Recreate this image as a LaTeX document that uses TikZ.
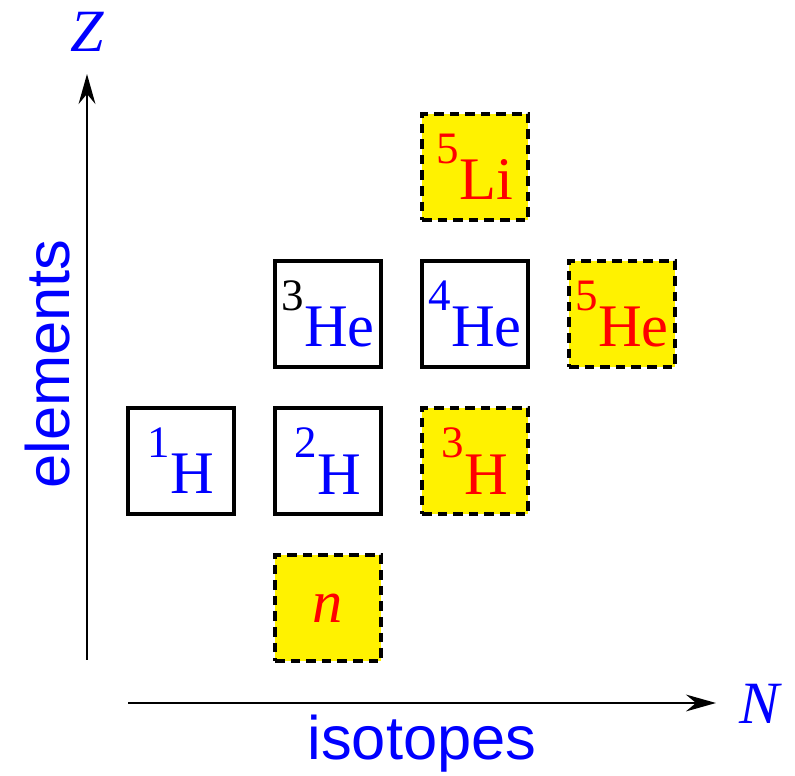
\documentclass[tikz,border=0pt]{standalone}
\usepackage{fontspec}
\setmainfont{Liberation Serif}
\setsansfont{Liberation Sans}
\usetikzlibrary{arrows.meta}
\newcommand{\nuc}[2]{\raisebox{0.6em}{\fontsize{32}{32}\selectfont #1}#2}
\tikzset{
  stable/.style={draw,line width=2.5pt,minimum size=2.65cm,inner sep=0pt,
    text=blue,font=\fontsize{43}{48}\selectfont},
  unstable/.style={stable,fill=yellow,text=red,dash pattern=on 0.24cm off 0.15cm},
  axis/.style={line width=2pt,-{Stealth[length=0.75cm,width=0.42cm,inset=0.25cm]}},
  axlabel/.style={blue,font=\fontsize{43.7}{48}\selectfont\sffamily}
}
\begin{document}
\begin{tikzpicture}
  \useasboundingbox (0,0) rectangle (19.875,19.4);
  % 坐标轴
  \coordinate (z0) at (2.175,2.9);
  \coordinate (z1) at (2.175,17.55);
  \coordinate (n0) at (3.2,1.825);
  \coordinate (n1) at (17.9,1.825);
  \draw[axis] (z0) -- (z1);
  \draw[axis] (n0) -- (n1);
  \node[blue,font=\fontsize{42.7}{48}\selectfont\itshape] (zlab) at (2.175,18.6) {Z};
  \node[blue,font=\fontsize{42.7}{48}\selectfont\itshape] (nlab) at (19.0,1.8) {N};
  \node[axlabel] (iso) at (10.55,0.8) {isotopes};
  \node[axlabel,rotate=90] (elem) at (1.2,10.3) {elements};
  % 稳定核
  \node[stable] (h1) at (4.525,7.875) {\nuc{1}{H}};
  \node[stable] (h2) at (8.2,7.875) {\nuc{2}{H}};
  \node[stable] (he3) at (8.2,11.55) {\nuc{\color{black}3}{He}};
  \node[stable] (he4) at (11.875,11.55) {\nuc{4}{He}};
  % 不稳定核
  \node[unstable] (neu) at (8.2,4.2) {\itshape n};
  \node[unstable] (h3) at (11.875,7.875) {\nuc{3}{H}};
  \node[unstable] (he5) at (15.55,11.55) {\nuc{5}{He}};
  \node[unstable] (li5) at (11.875,15.225) {\nuc{5}{Li}};
\end{tikzpicture}
\end{document}
